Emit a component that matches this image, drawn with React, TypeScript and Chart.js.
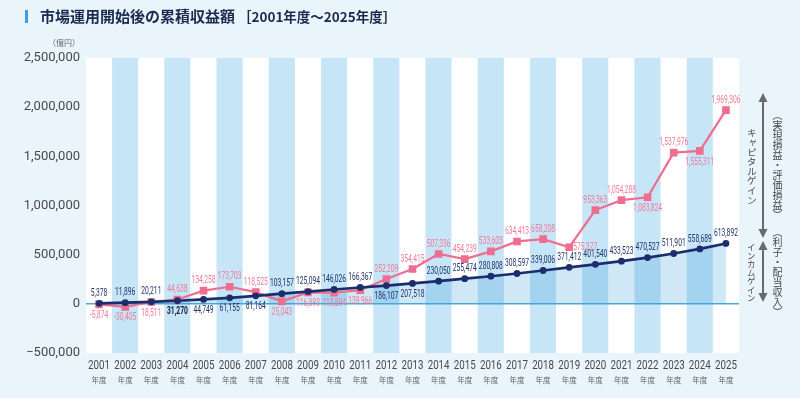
import React, { useEffect, useRef } from 'react';
import { Chart, registerables } from 'chart.js';

Chart.register(...registerables);

const years = ['2001','2002','2003','2004','2005','2006','2007','2008','2009','2010','2011','2012','2013','2014','2015','2016','2017','2018','2019','2020','2021','2022','2023','2024','2025'];
const incomeGain = [5378, 11896, 20211, 31270, 44749, 61155, 81164, 103157, 125094, 146026, 166367, 186107, 207518, 230050, 255474, 280808, 308597, 339006, 371412, 401540, 433523, 470527, 511901, 558689, 613892];
const totalReturn = [-5874, -30405, 18511, 44638, 134258, 173703, 118525, 25043, 116893, 113894, 139966, 252209, 354415, 507336, 454239, 533603, 634413, 658208, 575377, 953363, 1054288, 1083824, 1537976, 1555311, 1969306];
// label placement: a = above, b = below, r = right
const incomeLabelPos = ['a','a','a','b','b','b','b','a','a','a','a','b','b','a','a','a','a','a','a','a','a','a','a','a','a'];
const totalLabelPos = ['b','b','b','a','a','a','a','b','b','b','b','a','a','a','a','a','a','a','r','a','a','b','a','b','a'];
const yMin = -500000;
const yMax = 2500000;
const yStep = 500000;

const PAGE_BG = '#eaf4fb';
const BAND = '#c6e5f7';
const NAVY = '#1b2e6b';
const PINK = '#ef6d8f';
const NAVY_TEXT = '#1f3468';
const PINK_TEXT = '#f27a98';
const ZERO = '#4aa8d8';

const fmt = (v: number) => v.toLocaleString('en-US');

const bandPlugin = {
  id: 'bands',
  beforeDraw(chart: any) {
    const { ctx, chartArea: ca, scales } = chart;
    const x = scales.x;
    ctx.save();
    ctx.fillStyle = PAGE_BG;
    ctx.fillRect(0, 0, chart.width, chart.height);
    const w = x.getPixelForValue(1) - x.getPixelForValue(0);
    years.forEach((_, i) => {
      const cx = x.getPixelForValue(i);
      ctx.fillStyle = i % 2 ? BAND : '#ffffff';
      ctx.fillRect(cx - w / 2, ca.top, w, ca.bottom - ca.top);
    });
    ctx.restore();
  },
};

const labelPlugin = {
  id: 'vals',
  afterDatasetsDraw(chart: any) {
    const ctx = chart.ctx;
    const specs = [
      { data: incomeGain, pos: incomeLabelPos, color: NAVY_TEXT, di: 0 },
      { data: totalReturn, pos: totalLabelPos, color: PINK_TEXT, di: 1 },
    ];
    specs.forEach((s) => {
      const meta = chart.getDatasetMeta(s.di);
      meta.data.forEach((pt: any, i: number) => {
        const p = s.pos[i];
        let x = pt.x;
        let y = pt.y;
        let align: CanvasTextAlign = 'center';
        if (p === 'a') y -= 10;
        else if (p === 'b') y += 11;
        else { x += 4; align = 'left'; }
        const bold = s.di === 0 && i === 3;
        ctx.save();
        ctx.translate(x, y);
        ctx.scale(0.64, 1);
        ctx.font = `${bold ? 'bold ' : ''}10.5px Roboto`;
        ctx.fillStyle = bold ? '#141c33' : s.color;
        ctx.textAlign = align;
        ctx.textBaseline = 'middle';
        ctx.fillText(fmt(s.data[i]), 0, 0);
        ctx.restore();
      });
    });
  },
};

function arrow(ctx: CanvasRenderingContext2D, x: number, y1: number, y2: number) {
  const hl = 9, hw = 4.5;
  ctx.beginPath();
  ctx.moveTo(x, y1 + hl - 1);
  ctx.lineTo(x, y2 - hl + 1);
  ctx.stroke();
  ctx.beginPath();
  ctx.moveTo(x, y1); ctx.lineTo(x - hw, y1 + hl); ctx.lineTo(x + hw, y1 + hl); ctx.closePath(); ctx.fill();
  ctx.beginPath();
  ctx.moveTo(x, y2); ctx.lineTo(x - hw, y2 - hl); ctx.lineTo(x + hw, y2 - hl); ctx.closePath(); ctx.fill();
}

const decorPlugin = {
  id: 'decor',
  afterDraw(chart: any) {
    const { ctx, scales } = chart;
    const x = scales.x;
    ctx.save();
    // title
    ctx.fillStyle = '#3aa3dd';
    ctx.fillRect(25, 10, 3, 13);
    ctx.fillStyle = '#1b2a4e';
    ctx.textBaseline = 'middle';
    ctx.textAlign = 'left';
    ctx.font = 'bold 15px "Noto Sans CJK JP"';
    const t1 = '市場運用開始後の累積収益額';
    ctx.fillText(t1, 40, 16.5);
    const w1 = ctx.measureText(t1).width;
    ctx.font = 'bold 13.5px "Noto Sans CJK JP"';
    ctx.fillText('［2001年度～2025年度］', 40 + w1 + 3, 16.5);
    // unit
    ctx.font = '8px "Noto Sans CJK JP"';
    ctx.fillStyle = '#666666';
    ctx.textAlign = 'right';
    ctx.fillText('（億円）', 80, 43);
    // x labels
    years.forEach((yr, i) => {
      const cx = x.getPixelForValue(i);
      ctx.save();
      ctx.translate(cx, 366);
      ctx.scale(0.75, 1);
      ctx.font = '13px Roboto';
      ctx.fillStyle = '#4a4a4a';
      ctx.textAlign = 'center';
      ctx.textBaseline = 'middle';
      ctx.fillText(yr, 0, 0);
      ctx.restore();
      ctx.font = '7.5px "Noto Sans CJK JP"';
      ctx.fillStyle = '#666666';
      ctx.textAlign = 'center';
      ctx.textBaseline = 'middle';
      ctx.fillText('年度', cx, 380);
    });
    // arrows
    ctx.strokeStyle = '#6a6a6a';
    ctx.fillStyle = '#6a6a6a';
    ctx.lineWidth = 2;
    arrow(ctx, 763, 93, 238);
    arrow(ctx, 763, 241, 302);
    ctx.restore();
  },
};

const vStyle = (left: number, top: number, size: number): React.CSSProperties => ({
  position: 'absolute',
  left: left - size / 2,
  top,
  writingMode: 'vertical-rl',
  fontFamily: '"Noto Sans CJK JP"',
  fontSize: size,
  lineHeight: 1,
  color: '#4a4a4a',
  whiteSpace: 'nowrap',
});

export default function App() {
  const ref = useRef<HTMLCanvasElement>(null);
  useEffect(() => {
    if (!ref.current) return;
    const chart = new Chart(ref.current, {
      type: 'line',
      data: {
        labels: years,
        datasets: [
          {
            label: 'インカムゲイン',
            data: incomeGain,
            borderColor: NAVY,
            backgroundColor: 'rgba(58,155,217,0.24)',
            fill: 'origin',
            borderWidth: 2.7,
            pointStyle: 'circle',
            pointRadius: 3.4,
            pointBackgroundColor: NAVY,
            pointBorderWidth: 0,
            tension: 0,
          },
          {
            label: 'キャピタルゲイン',
            data: totalReturn,
            borderColor: PINK,
            backgroundColor: PINK,
            fill: false,
            borderWidth: 2.2,
            pointStyle: 'rect',
            pointRadius: 5.4,
            pointBackgroundColor: PINK,
            pointBorderWidth: 0,
            tension: 0,
          },
        ],
      },
      options: {
        responsive: false,
        animation: false,
        layout: { padding: { top: 58, right: 61, left: 0, bottom: 0 } },
        plugins: {
          legend: { display: false },
          tooltip: { enabled: false },
          filler: { drawTime: 'beforeDatasetsDraw' },
        } as any,
        scales: {
          x: {
            offset: true,
            grid: { display: false, drawTicks: false },
            border: { display: false },
            ticks: { display: false },
            afterFit: (s: any) => { s.height = 45; },
          },
          y: {
            min: yMin,
            max: yMax,
            ticks: {
              stepSize: yStep,
              padding: 6,
              color: '#4a4a4a',
              font: { family: 'Roboto', size: 13 },
              callback: (v: any) => (v < 0 ? '−' + fmt(Math.abs(v)) : fmt(v)),
            },
            grid: {
              color: (c: any) => (c.tick && c.tick.value === 0 ? ZERO : 'rgba(0,0,0,0)'),
              lineWidth: 1.5,
              drawTicks: false,
            },
            border: { display: false },
            afterFit: (s: any) => { s.width = 86; },
          },
        },
      },
      plugins: [bandPlugin, labelPlugin, decorPlugin],
    });
    return () => chart.destroy();
  }, []);
  return (
    <div style={{ position: 'fixed', left: 0, top: 0, width: 800, height: 398, background: PAGE_BG }}>
      <canvas ref={ref} width={800} height={398} style={{ display: 'block' }} />
      <div style={vStyle(751, 128, 9.6)}>キャピタルゲイン</div>
      <div style={vStyle(777, 110, 10)}>（実現損益・評価損益）</div>
      <div style={vStyle(751, 243, 8.5)}>インカムゲイン</div>
      <div style={vStyle(777, 227, 10)}>（利子・配当収入）</div>
    </div>
  );
}
